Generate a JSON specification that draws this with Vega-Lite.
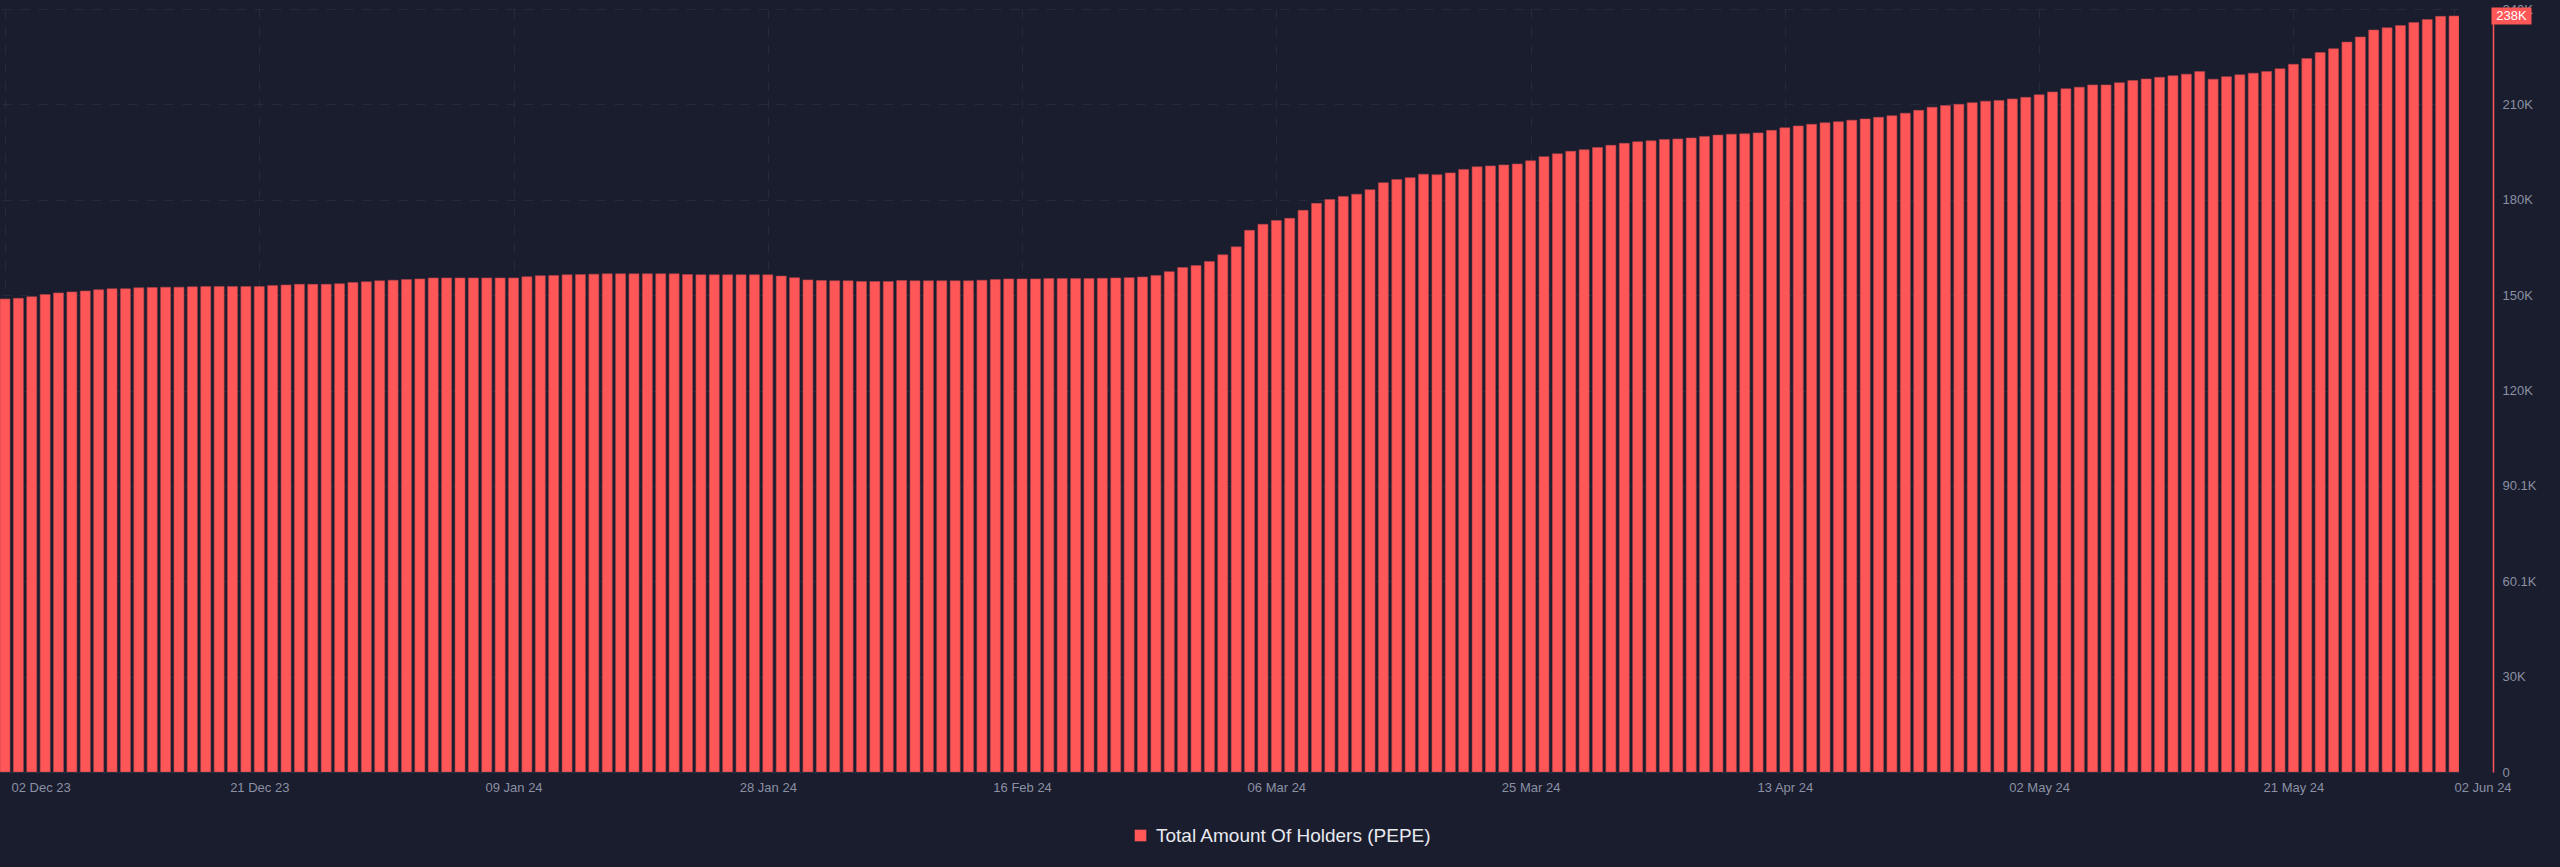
{
  "$schema": "https://vega.github.io/schema/vega-lite/v6.json",
  "width": 2459,
  "height": 763,
  "autosize": {"type": "none"},
  "padding": {"left": 0, "top": 9, "right": 101, "bottom": 95},
  "background": "#1a1d2e",
  "config": {"view": {"stroke": null}, "font": "Liberation Sans"},
  "data": {"values": [
    {"date": "2023-12-02", "holders": 149000}, {"date": "2023-12-03", "holders": 149200}, {"date": "2023-12-04", "holders": 149700}, {"date": "2023-12-05", "holders": 150400}, {"date": "2023-12-06", "holders": 150900}, {"date": "2023-12-07", "holders": 151200}, {"date": "2023-12-08", "holders": 151500}, {"date": "2023-12-09", "holders": 151900}, {"date": "2023-12-10", "holders": 152200}, {"date": "2023-12-11", "holders": 152200},
    {"date": "2023-12-12", "holders": 152500}, {"date": "2023-12-13", "holders": 152600}, {"date": "2023-12-14", "holders": 152700}, {"date": "2023-12-15", "holders": 152700}, {"date": "2023-12-16", "holders": 152800}, {"date": "2023-12-17", "holders": 152900}, {"date": "2023-12-18", "holders": 152900}, {"date": "2023-12-19", "holders": 152900}, {"date": "2023-12-20", "holders": 152900}, {"date": "2023-12-21", "holders": 152900},
    {"date": "2023-12-22", "holders": 153200}, {"date": "2023-12-23", "holders": 153400}, {"date": "2023-12-24", "holders": 153600}, {"date": "2023-12-25", "holders": 153600}, {"date": "2023-12-26", "holders": 153600}, {"date": "2023-12-27", "holders": 153800}, {"date": "2023-12-28", "holders": 154200}, {"date": "2023-12-29", "holders": 154400}, {"date": "2023-12-30", "holders": 154700}, {"date": "2023-12-31", "holders": 154900},
    {"date": "2024-01-01", "holders": 155100}, {"date": "2024-01-02", "holders": 155300}, {"date": "2024-01-03", "holders": 155600}, {"date": "2024-01-04", "holders": 155600}, {"date": "2024-01-05", "holders": 155600}, {"date": "2024-01-06", "holders": 155600}, {"date": "2024-01-07", "holders": 155600}, {"date": "2024-01-08", "holders": 155600}, {"date": "2024-01-09", "holders": 155600}, {"date": "2024-01-10", "holders": 156000},
    {"date": "2024-01-11", "holders": 156300}, {"date": "2024-01-12", "holders": 156400}, {"date": "2024-01-13", "holders": 156600}, {"date": "2024-01-14", "holders": 156700}, {"date": "2024-01-15", "holders": 156800}, {"date": "2024-01-16", "holders": 156900}, {"date": "2024-01-17", "holders": 156900}, {"date": "2024-01-18", "holders": 156900}, {"date": "2024-01-19", "holders": 156900}, {"date": "2024-01-20", "holders": 156900},
    {"date": "2024-01-21", "holders": 156900}, {"date": "2024-01-22", "holders": 156700}, {"date": "2024-01-23", "holders": 156600}, {"date": "2024-01-24", "holders": 156600}, {"date": "2024-01-25", "holders": 156600}, {"date": "2024-01-26", "holders": 156600}, {"date": "2024-01-27", "holders": 156600}, {"date": "2024-01-28", "holders": 156600}, {"date": "2024-01-29", "holders": 156200}, {"date": "2024-01-30", "holders": 155700},
    {"date": "2024-01-31", "holders": 155000}, {"date": "2024-02-01", "holders": 154800}, {"date": "2024-02-02", "holders": 154700}, {"date": "2024-02-03", "holders": 154700}, {"date": "2024-02-04", "holders": 154500}, {"date": "2024-02-05", "holders": 154500}, {"date": "2024-02-06", "holders": 154500}, {"date": "2024-02-07", "holders": 154800}, {"date": "2024-02-08", "holders": 154700}, {"date": "2024-02-09", "holders": 154700},
    {"date": "2024-02-10", "holders": 154700}, {"date": "2024-02-11", "holders": 154700}, {"date": "2024-02-12", "holders": 154700}, {"date": "2024-02-13", "holders": 154900}, {"date": "2024-02-14", "holders": 155100}, {"date": "2024-02-15", "holders": 155300}, {"date": "2024-02-16", "holders": 155300}, {"date": "2024-02-17", "holders": 155300}, {"date": "2024-02-18", "holders": 155400}, {"date": "2024-02-19", "holders": 155400},
    {"date": "2024-02-20", "holders": 155400}, {"date": "2024-02-21", "holders": 155400}, {"date": "2024-02-22", "holders": 155500}, {"date": "2024-02-23", "holders": 155600}, {"date": "2024-02-24", "holders": 155700}, {"date": "2024-02-25", "holders": 155900}, {"date": "2024-02-26", "holders": 156400}, {"date": "2024-02-27", "holders": 157600}, {"date": "2024-02-28", "holders": 158900}, {"date": "2024-02-29", "holders": 159500},
    {"date": "2024-03-01", "holders": 160800}, {"date": "2024-03-02", "holders": 162900}, {"date": "2024-03-03", "holders": 165400}, {"date": "2024-03-04", "holders": 170600}, {"date": "2024-03-05", "holders": 172500}, {"date": "2024-03-06", "holders": 173700}, {"date": "2024-03-07", "holders": 174400}, {"date": "2024-03-08", "holders": 176900}, {"date": "2024-03-09", "holders": 179100}, {"date": "2024-03-10", "holders": 180300},
    {"date": "2024-03-11", "holders": 181300}, {"date": "2024-03-12", "holders": 182000}, {"date": "2024-03-13", "holders": 183400}, {"date": "2024-03-14", "holders": 185600}, {"date": "2024-03-15", "holders": 186600}, {"date": "2024-03-16", "holders": 187200}, {"date": "2024-03-17", "holders": 188300}, {"date": "2024-03-18", "holders": 188100}, {"date": "2024-03-19", "holders": 188700}, {"date": "2024-03-20", "holders": 189800},
    {"date": "2024-03-21", "holders": 190600}, {"date": "2024-03-22", "holders": 190900}, {"date": "2024-03-23", "holders": 191200}, {"date": "2024-03-24", "holders": 191500}, {"date": "2024-03-25", "holders": 192500}, {"date": "2024-03-26", "holders": 193800}, {"date": "2024-03-27", "holders": 194700}, {"date": "2024-03-28", "holders": 195500}, {"date": "2024-03-29", "holders": 196000}, {"date": "2024-03-30", "holders": 196700},
    {"date": "2024-03-31", "holders": 197400}, {"date": "2024-04-01", "holders": 198000}, {"date": "2024-04-02", "holders": 198500}, {"date": "2024-04-03", "holders": 198800}, {"date": "2024-04-04", "holders": 199200}, {"date": "2024-04-05", "holders": 199400}, {"date": "2024-04-06", "holders": 199700}, {"date": "2024-04-07", "holders": 200200}, {"date": "2024-04-08", "holders": 200600}, {"date": "2024-04-09", "holders": 200900},
    {"date": "2024-04-10", "holders": 201000}, {"date": "2024-04-11", "holders": 201300}, {"date": "2024-04-12", "holders": 202100}, {"date": "2024-04-13", "holders": 202900}, {"date": "2024-04-14", "holders": 203500}, {"date": "2024-04-15", "holders": 204000}, {"date": "2024-04-16", "holders": 204500}, {"date": "2024-04-17", "holders": 204800}, {"date": "2024-04-18", "holders": 205300}, {"date": "2024-04-19", "holders": 205700},
    {"date": "2024-04-20", "holders": 206200}, {"date": "2024-04-21", "holders": 206700}, {"date": "2024-04-22", "holders": 207500}, {"date": "2024-04-23", "holders": 208400}, {"date": "2024-04-24", "holders": 209400}, {"date": "2024-04-25", "holders": 209900}, {"date": "2024-04-26", "holders": 210300}, {"date": "2024-04-27", "holders": 210800}, {"date": "2024-04-28", "holders": 211300}, {"date": "2024-04-29", "holders": 211500},
    {"date": "2024-04-30", "holders": 212000}, {"date": "2024-05-01", "holders": 212500}, {"date": "2024-05-02", "holders": 213300}, {"date": "2024-05-03", "holders": 214200}, {"date": "2024-05-04", "holders": 215200}, {"date": "2024-05-05", "holders": 215700}, {"date": "2024-05-06", "holders": 216400}, {"date": "2024-05-07", "holders": 216400}, {"date": "2024-05-08", "holders": 217100}, {"date": "2024-05-09", "holders": 217800},
    {"date": "2024-05-10", "holders": 218300}, {"date": "2024-05-11", "holders": 218800}, {"date": "2024-05-12", "holders": 219300}, {"date": "2024-05-13", "holders": 219800}, {"date": "2024-05-14", "holders": 220600}, {"date": "2024-05-15", "holders": 218200}, {"date": "2024-05-16", "holders": 219000}, {"date": "2024-05-17", "holders": 219600}, {"date": "2024-05-18", "holders": 220100}, {"date": "2024-05-19", "holders": 220600},
    {"date": "2024-05-20", "holders": 221500}, {"date": "2024-05-21", "holders": 222900}, {"date": "2024-05-22", "holders": 224700}, {"date": "2024-05-23", "holders": 226600}, {"date": "2024-05-24", "holders": 227800}, {"date": "2024-05-25", "holders": 229900}, {"date": "2024-05-26", "holders": 231500}, {"date": "2024-05-27", "holders": 233700}, {"date": "2024-05-28", "holders": 234400}, {"date": "2024-05-29", "holders": 235100},
    {"date": "2024-05-30", "holders": 236100}, {"date": "2024-05-31", "holders": 237000}, {"date": "2024-06-01", "holders": 238000}, {"date": "2024-06-02", "holders": 238100}
  ]},
  "encoding": {
    "x": {
      "field": "date", "type": "temporal",
      "scale": {"type": "utc", "domain": [{"year": 2023, "month": 12, "date": 2, "utc": true}, {"year": 2024, "month": 6, "date": 2, "utc": true}]},
      "axis": {
        "title": null,
        "values": [
          {"year": 2023, "month": 12, "date": 2, "utc": true},
          {"year": 2023, "month": 12, "date": 21, "utc": true},
          {"year": 2024, "month": 1, "date": 9, "utc": true},
          {"year": 2024, "month": 1, "date": 28, "utc": true},
          {"year": 2024, "month": 2, "date": 16, "utc": true},
          {"year": 2024, "month": 3, "date": 6, "utc": true},
          {"year": 2024, "month": 3, "date": 25, "utc": true},
          {"year": 2024, "month": 4, "date": 13, "utc": true},
          {"year": 2024, "month": 5, "date": 2, "utc": true},
          {"year": 2024, "month": 5, "date": 21, "utc": true},
          {"year": 2024, "month": 6, "date": 2, "utc": true}
        ],
        "format": "%d %b %y",
        "labelColor": "#8b90a3",
        "labelFontSize": 13,
        "labelPadding": 9,
        "labelBaseline": "top",
        "ticks": false,
        "tickSize": 0,
        "domainColor": "#2b2f40",
        "domainWidth": 1,
        "grid": true,
        "gridColor": "#262a3b",
        "gridDash": [9, 9],
        "gridWidth": 1,
        "labelOverlap": false,
        "labelBound": false,
        "labelFlush": false,
        "labelAlign": {"condition": {"test": "datum.index == 0 || datum.index == 1", "value": "left"}, "value": "center"},
        "labelOffset": {"condition": {"test": "datum.index == 0", "value": 6}, "value": 0}
      }
    },
    "y": {
      "field": "holders", "type": "quantitative",
      "scale": {"domain": [0, 240320], "nice": false, "zero": true},
      "axis": {
        "title": null,
        "orient": "right",
        "offset": 34,
        "values": [0, 30040, 60080, 90120, 120160, 150200, 180240, 210280, 240320],
        "labelExpr": "datum.value == 0 ? '0' : format(datum.value / 1000, '.3~r') + 'K'",
        "labelColor": "#8b90a3",
        "labelFontSize": 13,
        "labelPadding": 9,
        "ticks": false,
        "tickSize": 0,
        "domainColor": "#ff5757",
        "domainWidth": 1.5,
        "grid": true,
        "gridColor": "#262a3b",
        "gridDash": [9, 9],
        "gridWidth": 1
      }
    }
  },
  "layer": [
    {
      "mark": {"type": "bar", "width": 10, "clip": true, "stroke": "#b0444c", "strokeWidth": 0.6},
      "encoding": {
        "color": {
          "datum": "Total Amount Of Holders (PEPE)", "type": "nominal",
          "scale": {"range": ["#ff5757"]},
          "legend": {
            "title": null,
            "orient": "none",
            "legendX": 1131,
            "legendY": 817,
            "symbolType": "square",
            "symbolSize": 135,
            "symbolStrokeWidth": 0,
            "labelFontSize": 19,
            "labelLimit": 0,
            "labelColor": "#e8e9ef",
            "labelOffset": 6
          }
        }
      }
    },
    {
      "transform": [{"filter": "toNumber(toDate(datum.date)) == toNumber(toDate('2024-06-02'))"}],
      "mark": {"type": "point", "shape": "M-1,-0.425H1V0.425H-1Z", "size": 1600, "filled": true, "color": "#ff5757", "opacity": 1, "strokeWidth": 0, "xOffset": 57.5}
    },
    {
      "transform": [
        {"filter": "toNumber(toDate(datum.date)) == toNumber(toDate('2024-06-02'))"},
        {"calculate": "format(datum.holders / 1000, '.0f') + 'K'", "as": "lbl"}
      ],
      "mark": {"type": "text", "dx": 57.5, "color": "#ffffff", "fontSize": 13, "align": "center", "baseline": "middle"},
      "encoding": {"text": {"field": "lbl"}}
    }
  ]
}
